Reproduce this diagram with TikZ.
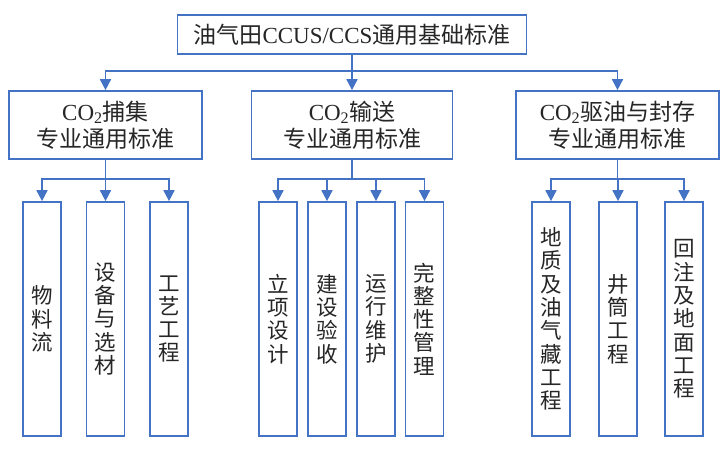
\documentclass[tikz,border=0pt]{standalone}
\usepackage{fontspec}
\setmainfont{Liberation Serif}
\newfontfamily\cjk{Noto Sans CJK SC}
\usetikzlibrary{arrows.meta}
\definecolor{frameblue}{HTML}{4472C4}
\definecolor{txtgray}{HTML}{262626}
\tikzset{
  box/.style={draw=frameblue,line width=1.7pt,fill=white,inner sep=0pt,align=center,text=txtgray,
    font=\fontsize{23}{27}\selectfont},
  leafbox/.style={box,minimum width=38pt,minimum height=234pt,font=\cjk\fontsize{21.5}{23.3}\selectfont},
  link/.style={draw=frameblue,line width=1.7pt},
  arr/.style={link,-{Triangle[width=11pt,length=11pt]}}
}
\begin{document}
\begin{tikzpicture}[x=1pt,y=-1pt]
\useasboundingbox (0,0) rectangle (726,456);
\node[box,minimum width=349pt,minimum height=39pt] (top) at (352,34.5)
  {{\cjk 油气田}CCUS/CCS{\cjk 通用基础标准}};
\node[box,minimum width=193pt,minimum height=68pt] (cap) at (105.5,125)
  {CO\textsubscript{2}{\cjk 捕集}\\{\cjk 专业通用标准}};
\node[box,minimum width=201pt,minimum height=68pt] (tra) at (352,125)
  {CO\textsubscript{2}{\cjk 输送}\\{\cjk 专业通用标准}};
\node[box,minimum width=203pt,minimum height=68pt] (sto) at (617.5,125)
  {CO\textsubscript{2}{\cjk 驱油与封存}\\{\cjk 专业通用标准}};
\node[leafbox] (c1) at (42,319) {物\\料\\流};
\node[leafbox] (c2) at (105.5,319) {设\\备\\与\\选\\材};
\node[leafbox] (c3) at (169,319) {工\\艺\\工\\程};
\node[leafbox] (t1) at (278,319) {立\\项\\设\\计};
\node[leafbox] (t2) at (327,319) {建\\设\\验\\收};
\node[leafbox] (t3) at (376,319) {运\\行\\维\\护};
\node[leafbox] (t4) at (424.5,319) {完\\整\\性\\管\\理};
\node[leafbox] (s1) at (551,319) {地\\质\\及\\油\\气\\藏\\工\\程};
\node[leafbox] (s2) at (618,319) {井\\筒\\工\\程};
\node[leafbox] (s3) at (684,319) {回\\注\\及\\地\\面\\工\\程};
\coordinate (hub) at (352,71);
\coordinate (capfork) at (105.5,179);
\coordinate (trafork) at (352,179);
\coordinate (stofork) at (617.5,179);
\draw[arr] (top.south) -- (tra.north);
\draw[arr] (hub) -| (cap.north);
\draw[arr] (hub) -| (sto.north);
\draw[link] (cap.south) -- (capfork);
\draw[link] (tra.south) -- (trafork);
\draw[link] (sto.south) -- (stofork);
\foreach \leaf in {c1,c2,c3} \draw[arr] (capfork) -| (\leaf.north);
\foreach \leaf in {t1,t2,t3,t4} \draw[arr] (trafork) -| (\leaf.north);
\foreach \leaf in {s1,s2,s3} \draw[arr] (stofork) -| (\leaf.north);
\end{tikzpicture}
\end{document}
